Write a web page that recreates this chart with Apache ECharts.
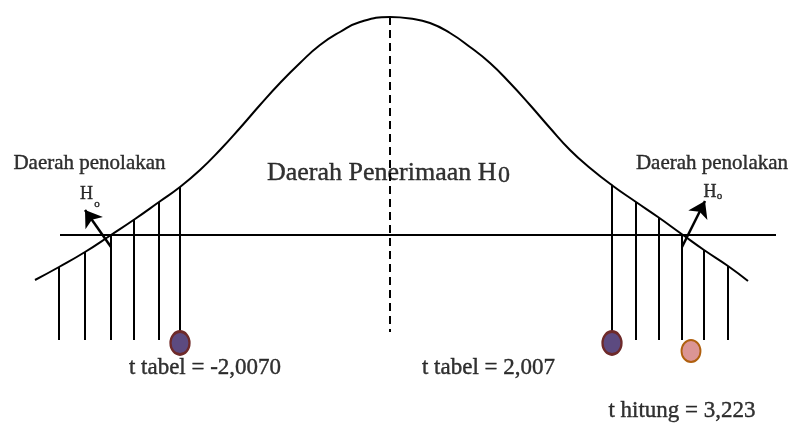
<!DOCTYPE html>
<html>
<head>
<meta charset="utf-8">
<script src="https://cdn.jsdelivr.net/npm/echarts@6/dist/echarts.min.js"></script>
<style>
  html, body { margin: 0; padding: 0; background: #fff; }
  #main { width: 791px; height: 424px; }
</style>
</head>
<body>
<div id="main"></div>
<script>
// kurva distribusi t (satuan bebas)
var curveX = [-3.55, -3.31, -3.05, -2.79, -2.55, -2.31, -2.10, -1.90, -1.70, -1.50, -1.30, -1.10, -0.90, -0.70, -0.50, -0.30, 0,
              0.20, 0.40, 0.60, 0.80, 1.00, 1.20, 1.40, 1.60, 1.80, 2.00, 2.23, 2.46, 2.68, 2.93, 3.14, 3.38, 3.58];
var curveY = [-0.45, -0.32, -0.17, 0.00, 0.16, 0.33, 0.48, 0.65, 0.85, 1.07, 1.30, 1.52, 1.72, 1.90, 2.03, 2.13, 2.18,
              2.165, 2.12, 2.02, 1.88, 1.72, 1.52, 1.30, 1.07, 0.85, 0.67, 0.49, 0.33, 0.18, 0.00, -0.15, -0.31, -0.46];

// garis arsir daerah penolakan
var leftHatchX = [-3.31, -3.05, -2.79, -2.56, -2.31, -2.10];
var leftHatchTop = [-0.32, -0.17, 0.00, 0.16, 0.33, 0.48];
var rightHatchX = [2.22, 2.46, 2.69, 2.92, 3.14, 3.38];
var rightHatchTop = [0.50, 0.33, 0.17, 0.00, -0.15, -0.31];
var hatchBottom = -1.05;

// garis dasar dan garis tengah
var baseLineX = [-3.30, 3.86];
var centerLineY = [2.18, -0.97];

// titik t tabel dan t hitung
var tTabelX = [-2.10, 2.22];
var tTabelY = [-1.08, -1.08];
var tHitungX = [3.01];
var tHitungY = [-1.16];

// panah H0
var arrowFrom = [[-2.79, -0.12], [2.92, -0.12]];
var arrowTo = [[-3.05, 0.25], [3.15, 0.34]];

// teks keterangan
var labelText = ['Daerah penolakan', 'Daerah penolakan', 'Daerah Penerimaan H', '0', 'H', 'o', 'H', 'o',
                 't tabel = -2,0070', 't tabel = 2,007', 't hitung = 3,223'];
var labelAt = [[-3.005, 0.715], [3.22, 0.72], [-1.23, 0.62], [1.08, 0.59], [-3.035, 0.41], [-2.93, 0.31], [3.20, 0.43], [3.295, 0.39],
               [-1.85, -1.325], [0.985, -1.33], [2.92, -1.76]];
var labelSize = [21, 21, 26, 24, 18, 11, 18, 11, 23, 23, 23];

var serif = "'Liberation Serif', 'Times New Roman', serif";

var myChart = echarts.init(document.getElementById('main'));

var curveData = curveX.map(function (x, i) { return [x, curveY[i]]; });

var hatchData = [];
leftHatchX.forEach(function (x, i) {
    hatchData.push({ coords: [[x, leftHatchTop[i]], [x, i === leftHatchX.length - 1 ? tTabelY[0] : hatchBottom]] });
});
rightHatchX.forEach(function (x, i) {
    hatchData.push({ coords: [[x, rightHatchTop[i]], [x, i === 0 ? tTabelY[1] : hatchBottom]] });
});

var labelData = labelText.map(function (t, i) {
    var leftAlign = (t === 'Daerah Penerimaan H' || t === '0');
    return {
        value: labelAt[i],
        label: {
            show: true,
            position: 'inside',
            formatter: t,
            fontFamily: serif,
            fontSize: labelSize[i],
            color: '#000',
            textBorderColor: '#000',
            textBorderWidth: 0.4,
            align: leftAlign ? 'left' : 'center',
            verticalAlign: 'middle'
        }
    };
});

var option = {
    animation: false,
    grid: { left: 0, right: 0, top: 0, bottom: 0 },
    xAxis: { type: 'value', min: -3.9, max: 4.01, show: false },
    yAxis: { type: 'value', min: -1.89, max: 2.35, show: false },
    series: [
        {
            name: 'kurva',
            type: 'line',
            data: curveData,
            smooth: 0.5,
            showSymbol: false,
            lineStyle: { color: '#000', width: 2 },
            z: 3
        },
        {
            name: 'garis dasar',
            type: 'line',
            data: [[baseLineX[0], 0], [baseLineX[1], 0]],
            showSymbol: false,
            lineStyle: { color: '#000', width: 2 },
            z: 2
        },
        {
            name: 'garis tengah',
            type: 'line',
            data: [[0, centerLineY[0]], [0, centerLineY[1]]],
            showSymbol: false,
            lineStyle: { color: '#000', width: 2, type: [8, 5] },
            z: 2
        },
        {
            name: 'arsir',
            type: 'lines',
            coordinateSystem: 'cartesian2d',
            data: hatchData,
            symbol: 'none',
            lineStyle: { color: '#000', width: 2, opacity: 1 },
            z: 2
        },
        {
            name: 'panah',
            type: 'lines',
            coordinateSystem: 'cartesian2d',
            data: arrowFrom.map(function (p, i) { return { coords: [p, arrowTo[i]] }; }),
            symbol: ['none', 'arrow'],
            symbolSize: 16,
            lineStyle: { color: '#000', width: 2.5, opacity: 1 },
            z: 4
        },
        {
            name: 't tabel',
            type: 'scatter',
            data: tTabelX.map(function (x, i) { return [x, tTabelY[i]]; }),
            symbol: 'circle',
            symbolSize: [19, 23],
            itemStyle: { color: '#5c4a80', borderColor: '#6e2a2a', borderWidth: 2.5, opacity: 1 },
            z: 5
        },
        {
            name: 't hitung',
            type: 'scatter',
            data: tHitungX.map(function (x, i) { return [x, tHitungY[i]]; }),
            symbol: 'circle',
            symbolSize: [19, 22],
            itemStyle: { color: '#db9595', borderColor: '#b0600f', borderWidth: 2, opacity: 1 },
            z: 5
        },
        {
            name: 'teks',
            type: 'scatter',
            data: labelData,
            symbolSize: 1,
            itemStyle: { color: 'transparent' },
            silent: true,
            z: 6
        }
    ]
};

myChart.setOption(option);
</script>
</body>
</html>
